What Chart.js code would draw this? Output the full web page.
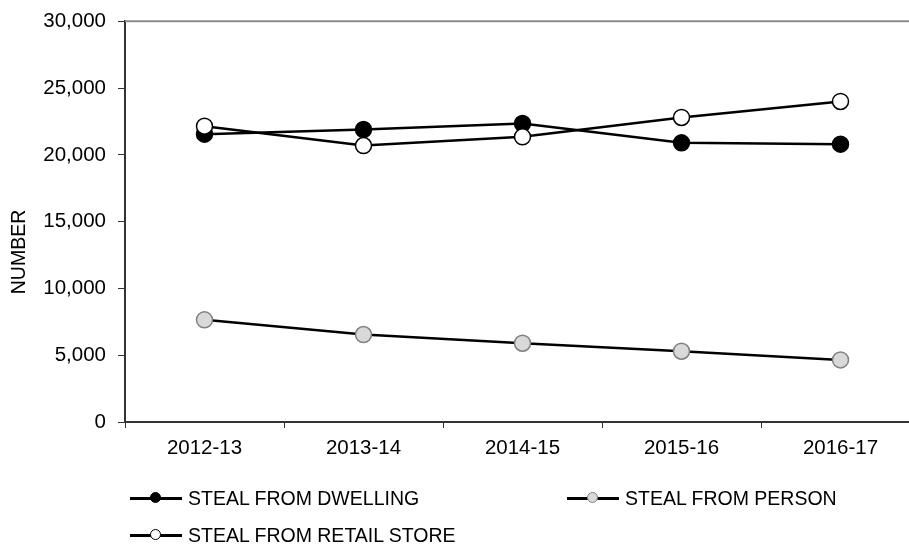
<!DOCTYPE html>
<html>
<head>
<meta charset="utf-8">
<script src="https://cdn.jsdelivr.net/npm/chart.js@4.4.1/dist/chart.umd.min.js"></script>
<style>
  html, body { margin: 0; padding: 0; background: #fff; overflow: hidden; }
  #wrap { position: relative; width: 909px; height: 549px; overflow: hidden; }
  #chart { position: absolute; left: 0; top: -3px; }
  .item { position: absolute; height: 20px; font: 19.5px "Liberation Sans", Arial, sans-serif; color: #000; white-space: nowrap; }
  .item .ln { position: absolute; left: 0; top: 9px; width: 52px; height: 2.5px; background: #000; }
  .item .dot { position: absolute; left: 20px; top: 4px; width: 9px; height: 9px; border-radius: 50%; border: 1.5px solid #000; }
  .item .txt { position: absolute; left: 58px; top: -2px; line-height: 24px; }
</style>
</head>
<body>
<div id="wrap">
  <canvas id="chart" width="935" height="552"></canvas>
  <div id="legend"></div>
</div>
<script>
  const years = ['2012-13', '2013-14', '2014-15', '2015-16', '2016-17'];
  const dwelling = [21550, 21900, 22350, 20900, 20800];
  const person = [7650, 6550, 5900, 5300, 4650];
  const retail = [22150, 20700, 21350, 22800, 24000];

  const font = { family: '"Liberation Sans", Arial, sans-serif', size: 20.5 };

  const datasets = [
    { label: 'STEAL FROM DWELLING', data: dwelling, order: 1,
      pointBackgroundColor: '#000', pointBorderColor: '#000' },
    { label: 'STEAL FROM PERSON', data: person, order: 2,
      pointBackgroundColor: '#d9d9d9', pointBorderColor: '#808080' },
    { label: 'STEAL FROM RETAIL STORE', data: retail, order: 0,
      pointBackgroundColor: '#fff', pointBorderColor: '#000' }
  ].map(d => Object.assign({
    borderColor: '#000',
    borderWidth: 2.5,
    pointRadius: 8,
    pointBorderWidth: 1.5,
    tension: 0
  }, d));

  // gray frame line on top + rotated axis title
  const extras = {
    id: 'extras',
    afterDraw(chart) {
      const { ctx, chartArea } = chart;
      ctx.save();
      ctx.strokeStyle = '#8c8c8c';
      ctx.lineWidth = 2;
      ctx.beginPath();
      ctx.moveTo(chartArea.left, chartArea.top);
      ctx.lineTo(chartArea.right, chartArea.top);
      ctx.stroke();
      ctx.translate(20, 255);
      ctx.rotate(-Math.PI / 2);
      ctx.fillStyle = '#000';
      ctx.font = '19.5px "Liberation Sans", Arial, sans-serif';
      ctx.textAlign = 'center';
      ctx.textBaseline = 'middle';
      ctx.fillText('NUMBER', 0, 0);
      ctx.restore();
    }
  };

  new Chart(document.getElementById('chart'), {
    type: 'line',
    data: { labels: years, datasets: datasets },
    options: {
      responsive: false,
      animation: false,
      layout: { padding: { top: 17, right: 15, left: 0, bottom: 0 } },
      plugins: { legend: { display: false }, tooltip: { enabled: false } },
      scales: {
        x: {
          offset: true,
          grid: { drawOnChartArea: false, drawTicks: true, tickLength: 6, color: '#333', offset: true },
          border: { color: '#333', width: 2 },
          ticks: { color: '#000', font: font, padding: 8, maxRotation: 0 },
          afterFit(scale) { scale.height = 127; }
        },
        y: {
          min: 0, max: 30000,
          grid: { drawOnChartArea: false, drawTicks: true, tickLength: 7, color: '#333' },
          border: { color: '#333', width: 2 },
          ticks: {
            stepSize: 5000, color: '#000', font: font, padding: 12,
            callback: v => v.toLocaleString('en-US')
          },
          afterFit(scale) { scale.width = 125; }
        }
      }
    },
    plugins: [extras]
  });

  // legend laid out in two columns like the reference
  const slots = [[130, 488], [567, 488], [130, 525]];
  const legend = document.getElementById('legend');
  datasets.forEach((d, i) => {
    const el = document.createElement('div');
    el.className = 'item';
    el.style.left = slots[i][0] + 'px';
    el.style.top = slots[i][1] + 'px';
    el.innerHTML = '<div class="ln"></div><div class="dot" style="background:' + d.pointBackgroundColor +
      ';border-color:' + d.pointBorderColor + '"></div><div class="txt"></div>';
    el.querySelector('.txt').textContent = d.label;
    legend.appendChild(el);
  });
</script>
</body>
</html>
